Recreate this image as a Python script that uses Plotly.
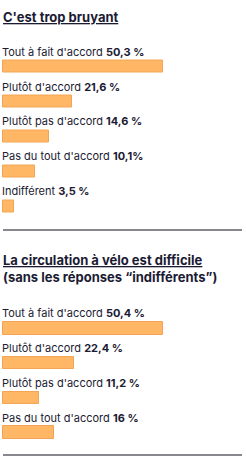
import plotly.graph_objects as go

# Data
title1 = "C'est trop bruyant"
cats1 = ["Tout à fait d'accord", "Plutôt d'accord", "Plutôt pas d'accord", "Pas du tout d'accord", "Indifférent"]
vals1 = [50.3, 21.6, 14.6, 10.1, 3.5]
labels1 = ["50,3 %", "21,6 %", "14,6 %", "10,1%", "3,5 %"]

title2a = "La circulation à vélo est difficile"
title2b = "(sans les réponses “indifférents”)"
cats2 = ["Tout à fait d'accord", "Plutôt d'accord", "Plutôt pas d'accord", "Pas du tout d'accord"]
vals2 = [50.4, 22.4, 11.2, 16]
labels2 = ["50,4 %", "22,4 %", "11,2 %", "16 %"]

W, H = 246, 462
FONT = "Inter"
TXT = "#1b1b33"
BAR = "#ffb766"
EDGE = "#f2a655"
PXPER = 3.18  # px per percent
LEFT = 3
LBL = 11
TTL = 13

def py(px):
    return 1 - px / H

fig = go.Figure()
fig.add_trace(go.Bar(y=cats1, x=vals1, orientation="h", xaxis="x", yaxis="y",
                     marker=dict(color=BAR, line=dict(color=EDGE, width=1)),
                     width=0.34, hoverinfo="skip", showlegend=False))
fig.add_trace(go.Bar(y=cats2, x=vals2, orientation="h", xaxis="x2", yaxis="y2",
                     marker=dict(color=BAR, line=dict(color=EDGE, width=1)),
                     width=0.36, hoverinfo="skip", showlegend=False))

xr = [-LEFT / PXPER, (W - LEFT) / PXPER]
ax_common = dict(visible=False, showgrid=False, zeroline=False, fixedrange=True)
fig.update_layout(
    width=W, height=H, margin=dict(l=0, r=0, t=0, b=0),
    paper_bgcolor="white", plot_bgcolor="white",
    font=dict(family=FONT, color=TXT, size=LBL),
    xaxis=dict(range=xr, domain=[0, 1], anchor="y", **ax_common),
    yaxis=dict(domain=[py(223.5), py(49.5)], anchor="x", type="category",
               categoryorder="array", categoryarray=cats1,
               range=[len(cats1) - 0.5, -0.5], **ax_common),
    xaxis2=dict(range=xr, domain=[0, 1], anchor="y2", **ax_common),
    yaxis2=dict(domain=[py(450), py(311)], anchor="x2", type="category",
                categoryorder="array", categoryarray=cats2,
                range=[len(cats2) - 0.5, -0.5], **ax_common),
    bargap=0,
)

ann = []
for c, l in zip(cats1, labels1):
    ann.append(dict(xref="x", yref="y", x=0, y=c, xanchor="left", yanchor="middle",
                    yshift=15, xshift=-3, showarrow=False,
                    text=f"{c} <b>{l}</b>", font=dict(size=LBL, color=TXT, family=FONT)))
for c, l in zip(cats2, labels2):
    ann.append(dict(xref="x2", yref="y2", x=0, y=c, xanchor="left", yanchor="middle",
                    yshift=15, xshift=-3, showarrow=False,
                    text=f"{c} <b>{l}</b>", font=dict(size=LBL, color=TXT, family=FONT)))

ann.append(dict(xref="paper", yref="paper", x=0, y=py(17), xanchor="left", yanchor="middle",
                xshift=1, showarrow=False, text=f"<b><u>{title1}</u></b>",
                font=dict(size=TTL, color=TXT, family=FONT)))
ann.append(dict(xref="paper", yref="paper", x=0, y=py(260), xanchor="left", yanchor="middle",
                xshift=1, showarrow=False, text=f"<b><u>{title2a}</u></b>",
                font=dict(size=TTL, color=TXT, family=FONT)))
ann.append(dict(xref="paper", yref="paper", x=0, y=py(277), xanchor="left", yanchor="middle",
                xshift=1, showarrow=False, text=f"<b>{title2b}</b>",
                font=dict(size=TTL, color=TXT, family=FONT)))
fig.update_layout(annotations=ann)

shapes = []
for ypx in (230, 455):
    shapes.append(dict(type="line", xref="paper", yref="paper", x0=LEFT / W, x1=242 / W,
                       y0=py(ypx), y1=py(ypx), line=dict(color="#111122", width=1.2)))
fig.update_layout(shapes=shapes)

fig.write_html("out.html")
